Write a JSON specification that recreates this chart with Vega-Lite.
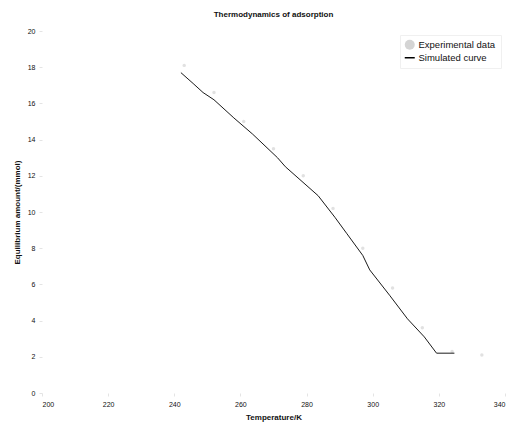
{
  "$schema": "https://vega.github.io/schema/vega-lite/v6.json",
  "width": 463,
  "height": 362,
  "autosize": "none",
  "padding": {"left": 42, "top": 31, "right": 8, "bottom": 39},
  "background": "white",
  "title": {"text": "Thermodynamics of adsorption", "fontSize": 8, "font": "Liberation Sans", "fontWeight": "bold", "offset": 8, "color": "#111"},
  "datasets": {
    "sim": [
      {"T": 242, "y": 17.7, "series": "Simulated curve"},
      {"T": 245.7, "y": 17.1, "series": "Simulated curve"},
      {"T": 248.7, "y": 16.6, "series": "Simulated curve"},
      {"T": 252.0, "y": 16.2, "series": "Simulated curve"},
      {"T": 258.0, "y": 15.2, "series": "Simulated curve"},
      {"T": 263.7, "y": 14.3, "series": "Simulated curve"},
      {"T": 271.2, "y": 13.0, "series": "Simulated curve"},
      {"T": 273.6, "y": 12.5, "series": "Simulated curve"},
      {"T": 283.5, "y": 10.9, "series": "Simulated curve"},
      {"T": 288.6, "y": 9.7, "series": "Simulated curve"},
      {"T": 292.2, "y": 8.8, "series": "Simulated curve"},
      {"T": 297.0, "y": 7.6, "series": "Simulated curve"},
      {"T": 299.1, "y": 6.8, "series": "Simulated curve"},
      {"T": 305.1, "y": 5.4, "series": "Simulated curve"},
      {"T": 310.5, "y": 4.1, "series": "Simulated curve"},
      {"T": 315.6, "y": 3.1, "series": "Simulated curve"},
      {"T": 319.3, "y": 2.2, "series": "Simulated curve"},
      {"T": 324.7, "y": 2.2, "series": "Simulated curve"}
    ],
    "exp": [
      {"T": 243, "y": 18.1, "series": "Experimental data"},
      {"T": 252, "y": 16.6, "series": "Experimental data"},
      {"T": 261, "y": 15.0, "series": "Experimental data"},
      {"T": 270, "y": 13.5, "series": "Experimental data"},
      {"T": 279, "y": 12.0, "series": "Experimental data"},
      {"T": 288, "y": 10.2, "series": "Experimental data"},
      {"T": 297, "y": 8.0, "series": "Experimental data"},
      {"T": 306, "y": 5.8, "series": "Experimental data"},
      {"T": 315, "y": 3.6, "series": "Experimental data"},
      {"T": 324, "y": 2.3, "series": "Experimental data"},
      {"T": 333, "y": 2.1, "series": "Experimental data"}
    ]
  },
  "encoding": {
    "x": {"field": "T", "type": "quantitative", "scale": {"domain": [200, 340], "nice": false, "zero": false}, "axis": {"title": "Temperature/K", "values": [200, 220, 240, 260, 280, 300, 320, 340]}},
    "y": {"field": "y", "type": "quantitative", "scale": {"domain": [0, 20], "nice": false}, "axis": {"title": "Equilibrium amount/(mmol)", "values": [0, 2, 4, 6, 8, 10, 12, 14, 16, 18, 20]}},
    "color": {"field": "series", "type": "nominal", "scale": {"domain": ["Experimental data", "Simulated curve"], "range": ["#d4d4d4", "#000000"]},
      "legend": {"symbolType": "circle", "encode": {"symbols": {"update": {"shape": {"signal": "datum.value === 'Simulated curve' ? 'stroke' : 'circle'"}, "strokeWidth": {"signal": "datum.value === 'Simulated curve' ? 1.5 : 0"}, "stroke": {"signal": "datum.value === 'Simulated curve' ? '#000' : null"}}}}}}
  },
  "layer": [
    {
      "data": {"name": "exp"},
      "mark": {"type": "circle", "size": 12}
    },
    {
      "data": {"name": "sim"},
      "mark": {"type": "line", "strokeWidth": 0.9}
    }
  ],
  "config": {
    "view": {"stroke": null},
    "font": "Liberation Sans",
    "axis": {
      "grid": false,
      "domain": false,
      "tickColor": "#e4e4e4",
      "tickSize": 3,
      "labelFontSize": 7,
      "labelColor": "#111",
      "labelOverlap": false,
      "titleFontSize": 8,
      "titleFontWeight": "bold",
      "titleColor": "#111",
      "labelPadding": 4
    },
    "axisX": {"titlePadding": 6},
    "axisY": {"titlePadding": 6},
    "legend": {
      "orient": "top-right",
      "title": null,
      "labelFontSize": 9.5,
      "labelColor": "#111",
      "strokeColor": "#f0f0f0",
      "padding": 5,
      "offset": 4,
      "symbolSize": 100,
      "rowPadding": 2
    }
  }
}
